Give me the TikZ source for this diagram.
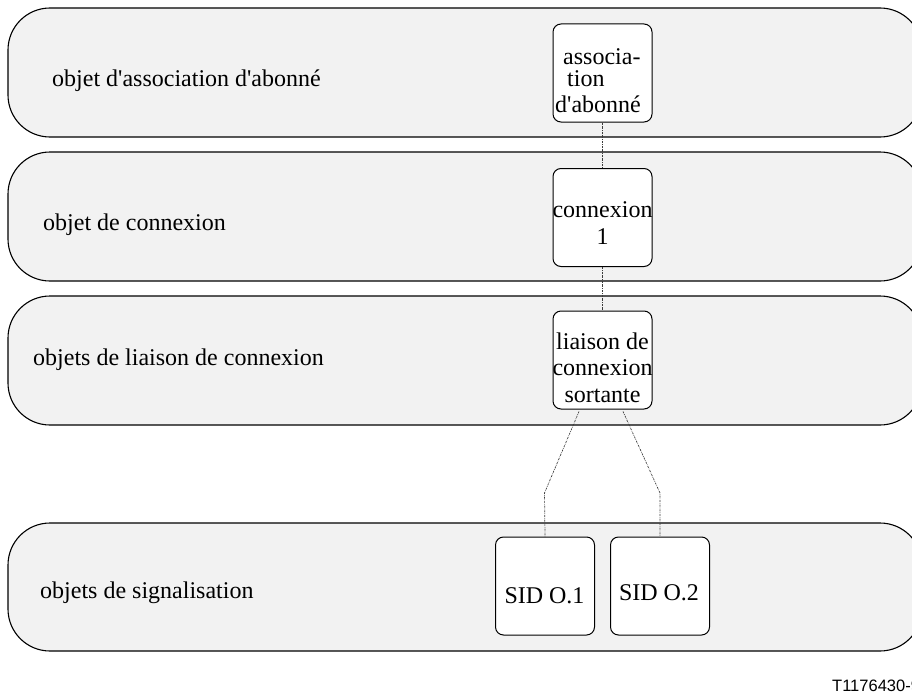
\documentclass[tikz,border=0pt]{standalone}
\usepackage{fontspec}
\setmainfont{Liberation Serif}
\newfontfamily\sansf{Liberation Sans}
\usetikzlibrary{calc}
\definecolor{bandfill}{RGB}{242,242,242}
\definecolor{linkgray}{RGB}{60,60,60}
\newcommand{\apos}{\textquotesingle}
\tikzset{
  band/.style={draw=black, line width=1.1pt, fill=bandfill, rounded corners=42pt},
  objbox/.style={draw=black, line width=1pt, fill=white, rounded corners=8pt,
    inner sep=0pt, minimum width=99pt, minimum height=98pt},
  boxtxt/.style={inner sep=0pt, font=\fontsize{24}{26.5}\selectfont},
  bandtxt/.style={inner sep=0pt, anchor=base west, font=\fontsize{24}{26.5}\selectfont},
  link/.style={draw=linkgray, line width=0.7pt, dash pattern=on 2pt off 1pt on 0.6pt off 1pt}
}
\begin{document}
\begin{tikzpicture}[x=1pt,y=-1pt]
\useasboundingbox (0,0) rectangle (912,693);
\clip (0,0) rectangle (912,693);
% bands
\path[band] (8,8) rectangle (922,137);
\path[band] (8,152) rectangle (922,281);
\path[band] (8,296) rectangle (922,425);
\path[band] (8,523) rectangle (922,651);
% band labels
\node[bandtxt] (l1) at (52,86) {objet d\apos association d\apos abonné};
\node[bandtxt] (l2) at (43,230) {objet de connexion};
\node[bandtxt] (l3) at (33,365) {objets de liaison de connexion};
\node[bandtxt] (l4) at (40,598) {objets de signalisation};
% object boxes
\node[objbox] (b1) at (602.5,73) {};
\node[objbox] (b2) at (602.5,217.5) {};
\node[objbox] (b3) at (602.5,360) {};
\node[objbox] (s1) at (545,586) {};
\node[objbox] (s2) at (660,586) {};
% box texts
\node[boxtxt, align=left, anchor=west] (t1) at (555,80.5) {\hspace*{8pt}associa-\\[-4.5pt]\hspace*{12pt}tion\\d\apos abonné};
\node[boxtxt, align=center] (t2) at (602.5,223.3) {connexion\\1};
\node[boxtxt, align=center] (t3) at (602.5,367.3) {liaison de\\connexion\\sortante};
\node[boxtxt, anchor=base] (t4) at (544.5,603) {SID O.1};
\node[boxtxt, anchor=base] (t5) at (659,600) {SID O.2};
% connectors
\coordinate (k1) at (544.5,493);
\coordinate (k2) at (660,493);
\draw[link] (b1.south) -- (b2.north);
\draw[link] (b2.south) -- (b3.north);
\draw[link] ($(b3.south)+(-23.5,2)$) -- (k1) -- (s1.north);
\draw[link] ($(b3.south)+(20.5,2)$) -- (k2) -- (s2.north);
% figure reference
\node[inner sep=0pt, anchor=base west, font=\sansf\fontsize{16.5}{18}\selectfont] (ref) at (832,691) {T1176430-9};
\end{tikzpicture}
\end{document}
